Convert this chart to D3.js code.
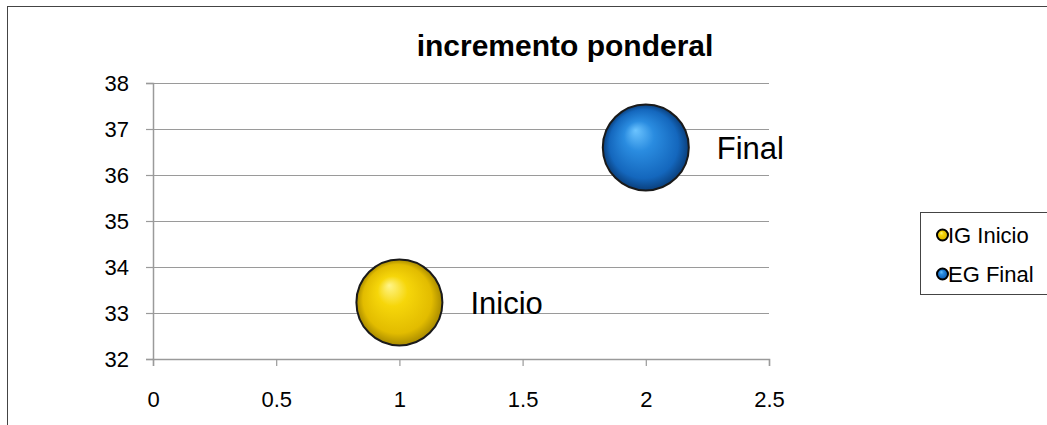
<!DOCTYPE html>
<html>
<head>
<meta charset="utf-8">
<script src="https://cdn.jsdelivr.net/npm/d3@7"></script>
<style>
  body { margin: 0; background: #fff; }
  text { font-family: "Liberation Sans", Arial, sans-serif; }
</style>
</head>
<body>
<div id="my_dataviz"></div>
<script>
// chart data
var seriesNames = ["IG Inicio", "EG Final"];
var pointLabels = ["Inicio", "Final"];
var xValues = [1, 2];
var yValues = [33.23, 36.6];
var bubbleSizes = [1, 1];
var xTicks = [0, 0.5, 1, 1.5, 2, 2.5];
var yTicks = [32, 33, 34, 35, 36, 37, 38];

var W = 1047, H = 425;
var plot = {left: 153, right: 769, top: 83, bottom: 359};

var svg = d3.select("#my_dataviz")
  .append("svg")
    .attr("width", W)
    .attr("height", H);

// gradients for the shiny balls
var defs = svg.append("defs");
var palettes = [
  {id: "gYellow", stops: ["#fff58a", "#f6d60a", "#e2bc00", "#a88a00"]},
  {id: "gBlue", stops: ["#6cc4ff", "#2a8ce0", "#1467bd", "#0a3f7c"]}
];
palettes.forEach(function(p) {
  var g = defs.append("radialGradient")
    .attr("id", p.id)
    .attr("cx", "50%").attr("cy", "50%").attr("r", "50%")
    .attr("fx", "38%").attr("fy", "30%");
  [0, 0.35, 0.8, 1].forEach(function(o, i) {
    g.append("stop").attr("offset", o).attr("stop-color", p.stops[i]);
  });
});

// outer chart border
svg.append("rect")
  .attr("x", 7.5).attr("y", 6.5)
  .attr("width", W + 10).attr("height", H + 10)
  .attr("fill", "none")
  .attr("stroke", "#444")
  .attr("stroke-width", 1);

var x = d3.scaleLinear().domain([0, 2.5]).range([plot.left, plot.right]);
var y = d3.scaleLinear().domain([32, 38]).range([plot.bottom, plot.top]);
var r = d3.scaleSqrt().domain([0, 1]).range([0, 43]);

// gridlines
svg.append("g")
  .selectAll("line")
  .data(yTicks.slice(1))
  .enter()
  .append("line")
    .attr("x1", plot.left).attr("x2", plot.right)
    .attr("y1", function(d) { return Math.round(y(d)) + 0.5; })
    .attr("y2", function(d) { return Math.round(y(d)) + 0.5; })
    .attr("stroke", "#9a9a9a")
    .attr("stroke-width", 1.2);

// y axis
var yAxis = svg.append("g")
  .attr("transform", "translate(" + plot.left + ",0)")
  .call(d3.axisLeft(y).tickValues(yTicks).tickSize(7).tickPadding(17).tickFormat(d3.format("d")));
yAxis.select(".domain").attr("stroke", "#9a9a9a").attr("stroke-width", 1.5);
yAxis.selectAll(".tick line").attr("stroke", "#9a9a9a").attr("stroke-width", 1.2);
yAxis.selectAll(".tick text").style("font-size", "22px").attr("fill", "#000").attr("dy", "0.35em");

// x axis
var xAxis = svg.append("g")
  .attr("transform", "translate(0," + plot.bottom + ")")
  .call(d3.axisBottom(x).tickValues(xTicks).tickSize(7).tickPadding(25).tickFormat(d3.format("")));
xAxis.select(".domain").attr("stroke", "#9a9a9a").attr("stroke-width", 1.5);
xAxis.selectAll(".tick line").attr("stroke", "#9a9a9a").attr("stroke-width", 1.2);
xAxis.selectAll(".tick text").style("font-size", "22px").attr("fill", "#000");

// title
svg.append("text")
  .attr("x", 565).attr("y", 56)
  .attr("text-anchor", "middle")
  .style("font-size", "30px")
  .style("font-weight", "bold")
  .text("incremento ponderal");

// bubbles
var idx = d3.range(xValues.length);
svg.append("g")
  .selectAll("circle")
  .data(idx)
  .enter()
  .append("circle")
    .attr("cx", function(i) { return x(xValues[i]); })
    .attr("cy", function(i) { return y(yValues[i]); })
    .attr("r", function(i) { return r(bubbleSizes[i]); })
    .attr("fill", function(i) { return "url(#" + palettes[i].id + ")"; })
    .attr("stroke", "#1a1a1a")
    .attr("stroke-width", 2);

// data labels
svg.append("g")
  .selectAll("text")
  .data(idx)
  .enter()
  .append("text")
    .attr("x", function(i) { return x(xValues[i]) + r(bubbleSizes[i]) + 28; })
    .attr("y", function(i) { return y(yValues[i]); })
    .attr("dy", "0.38em")
    .style("font-size", "31px")
    .text(function(i) { return pointLabels[i]; });

// legend (right side runs off the picture, as in the original)
var legend = svg.append("g");
legend.append("rect")
  .attr("x", 920.5).attr("y", 212.5)
  .attr("width", 135).attr("height", 82)
  .attr("fill", "#fff")
  .attr("stroke", "#444");
var items = legend.selectAll("g.item")
  .data(idx)
  .enter()
  .append("g")
    .attr("class", "item")
    .attr("transform", function(i) { return "translate(0," + (243 + i * 39) + ")"; });
items.append("circle")
  .attr("cx", 942.5).attr("cy", -8)
  .attr("r", 5.5)
  .attr("fill", function(i) { return "url(#" + palettes[i].id + ")"; })
  .attr("stroke", "#000")
  .attr("stroke-width", 2);
items.append("text")
  .attr("x", 948).attr("y", 0)
  .style("font-size", "22px")
  .text(function(i) { return seriesNames[i]; });
</script>
</body>
</html>
